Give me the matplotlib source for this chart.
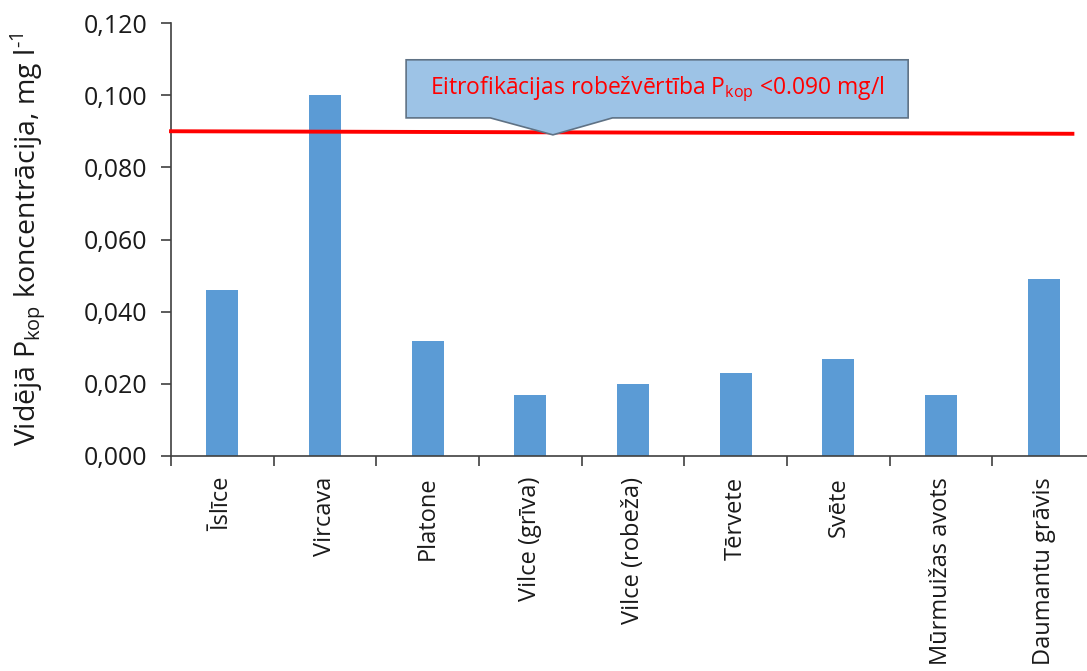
import matplotlib.pyplot as plt
import matplotlib.patches as mpatches
import numpy as np

plt.rcParams['font.family'] = ['Open Sans', 'DejaVu Sans']
plt.rcParams['mathtext.fontset'] = 'custom'
plt.rcParams['mathtext.rm'] = 'Open Sans'

# vidējās kopējā fosfora koncentrācijas monitoringa vietās
vietas = ['Īslīce', 'Vircava', 'Platone', 'Vilce (grīva)', 'Vilce (robeža)',
          'Tērvete', 'Svēte', 'Mūrmuižas avots', 'Daumantu grāvis']
p_kop = [0.046, 0.100, 0.032, 0.017, 0.020, 0.023, 0.027, 0.017, 0.049]
robeza = 0.090
yticks = [0.000, 0.020, 0.040, 0.060, 0.080, 0.100, 0.120]

fig = plt.figure(figsize=(10.87, 6.71), dpi=100)
W, H = 1087, 671
# asis nedaudz iziet aiz attēla labās malas
ax = fig.add_axes([171 / W, 1 - 456 / H, (1095 - 171) / W, (456 - 23) / H])

x = np.arange(len(vietas))
ax.bar(x, p_kop, width=0.31, color='#5B9BD5', zorder=2)

ax.set_xlim(-0.5, len(vietas) - 0.5)
ax.set_ylim(0, 0.120)
ax.set_yticks(yticks)
ax.set_yticklabels([f'{v:.3f}'.replace('.', ',') for v in yticks], fontsize=18,
                   color='#1a1a1a')
ax.set_xticks(np.arange(len(vietas) + 1) - 0.5)
ax.set_xticklabels([])
ax.set_xticks(x, minor=True)
ax.set_xticklabels(vietas, minor=True, rotation=90, fontsize=17, color='#1a1a1a',
                   va='top')
ax.tick_params(axis='x', which='minor', length=0, pad=15)
ax.tick_params(axis='x', which='major', length=7, width=1.2, color='#404040')
ax.tick_params(axis='y', length=7, width=1.2, color='#404040', pad=10)
for s in ['top', 'right']:
    ax.spines[s].set_visible(False)
for s in ['left', 'bottom']:
    ax.spines[s].set_color('#404040')
    ax.spines[s].set_linewidth(1.2)

ax.set_ylabel('Vidējā P$_{\\mathregular{kop}}$ koncentrācija, mg l$^{\\mathregular{\u2010}\\mathregular{1}}$',
              fontsize=20.5, color='#1a1a1a', labelpad=26)

# robežvērtības līnija
ax.plot([-0.5, 8.28], [robeza, robeza - 0.0007], color='#FF0000', lw=2.8,
        zorder=3, clip_on=False)

# izsaukuma bloks ar bultu uz leju
box = [(1.79, 0.1098), (6.68, 0.1098), (6.68, 0.0937), (3.80, 0.0937),
       (3.22, 0.0890), (2.61, 0.0937), (1.79, 0.0937)]
ax.add_patch(mpatches.Polygon(box, closed=True, facecolor='#9DC3E6',
                              edgecolor='#5F7285', lw=1.2, zorder=4, clip_on=False))
ax.text(4.235, 0.1018,
        'Eitrofikācijas robežvērtība P$_{\\mathregular{kop}}$ <0.090 mg/l',
        color='#FF0000', fontsize=16.5, ha='center', va='center', zorder=5)

fig.savefig('out.png', dpi=100)
